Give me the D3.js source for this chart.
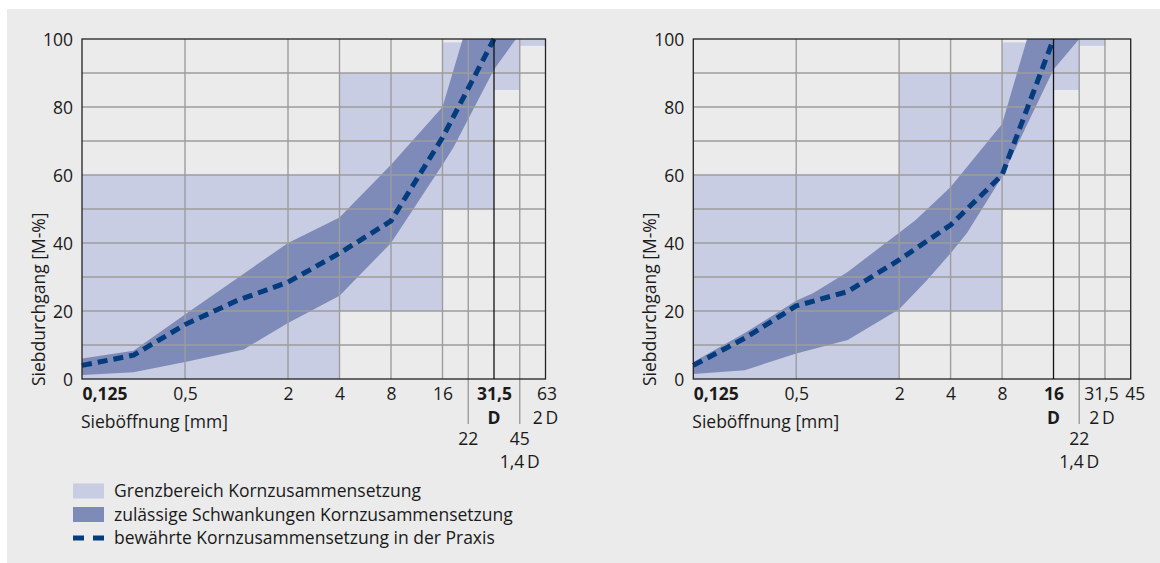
<!DOCTYPE html>
<html>
<head>
<meta charset="utf-8">
<script src="https://cdn.jsdelivr.net/npm/d3@7"></script>
<style>
  html, body { margin: 0; padding: 0; background: #ffffff; }
  svg { display: block; }
  text { font-family: "Open Sans", "Noto Sans", sans-serif; fill: #1a1a1a; }
</style>
</head>
<body>
<svg id="chart" width="1160" height="563"></svg>
<script>
// ---------------- DATA ----------------
const yTicks = [0, 20, 40, 60, 80, 100];
const yGrid = [10, 20, 30, 40, 50, 60, 70, 80, 90];

// left chart (D = 31,5)
const leftDomain = [0.125, 63];
const leftGridX = [0.5, 2, 4, 8, 16, 22, 45];
const leftDLine = 31.5;
const leftTicks = [0.125, 0.5, 2, 4, 8, 16, 31.5, 63];
const leftTickLabels = ["0,125", "0,5", "2", "4", "8", "16", "31,5", "63"];
const leftBoldTicks = [0.125, 31.5];
const leftRow2 = [[31.5, "D", true], [63, "2\u2009D", false]];
const leftRow3 = [[22, "22"], [45, "45"]];
const leftRow4 = [[45, "1,4\u2009D"]];
const leftExtLines = [22, 45];
const leftBoxes = [[0.125, 4, 0, 60], [4, 16, 20, 90], [16, 31.5, 50, 99], [31.5, 45, 85, 100], [45, 63, 98, 100]];
const leftUpper = [[0.125, 6], [0.25, 8.3], [0.5, 19], [1, 29.5], [2, 40], [4, 47.5], [8, 63], [16, 80], [21, 100]];
const leftLower = [[0.125, 1.2], [0.25, 2], [0.5, 5], [1.1, 8.7], [2, 16.5], [4, 24.5], [8, 40], [16, 63], [18.5, 68], [31.5, 91], [43, 100]];
const leftLine = [[0.125, 4], [0.25, 7], [0.5, 16], [1, 23], [2, 28.5], [4, 37], [8, 46.5], [16, 71], [31.5, 100]];

// right chart (D = 16)
const rightDomain = [0.125, 45];
const rightGridX = [0.5, 2, 4, 8, 22, 31.5];
const rightDLine = 16;
const rightTicks = [0.125, 0.5, 2, 4, 8, 16, 31.5, 45];
const rightTickLabels = ["0,125", "0,5", "2", "4", "8", "16", "31,5", "45"];
const rightBoldTicks = [0.125, 16];
const rightRow2 = [[16, "D", true], [31.5, "2\u2009D", false]];
const rightRow3 = [[22, "22"]];
const rightRow4 = [[22, "1,4\u2009D"]];
const rightExtLines = [22];
const rightBoxes = [[0.125, 2, 0, 60], [2, 8, 20, 90], [8, 16, 50, 99], [16, 22, 85, 100], [22, 31.5, 98, 100]];
const rightUpper = [[0.125, 5], [0.25, 13.5], [0.5, 23], [0.63, 25.3], [1, 31.5], [2, 43], [2.5, 46.8], [4, 56.5], [8, 75], [11.2, 100]];
const rightLower = [[0.125, 1.5], [0.25, 2.6], [0.5, 7.5], [1, 11.5], [2, 20.5], [2.9, 29], [4, 37], [5, 43], [8, 59.5], [16, 91], [22, 100]];
const rightLine = [[0.125, 4], [0.25, 12], [0.5, 21.5], [1, 25.7], [2, 35], [4, 45.3], [8, 60], [16, 100]];

const legendItems = [
  { type: "light", label: "Grenzbereich Kornzusammensetzung" },
  { type: "dark", label: "zulässige Schwankungen Kornzusammensetzung" },
  { type: "dash", label: "bewährte Kornzusammensetzung in der Praxis" }
];

// ---------------- STYLE ----------------
const COL_PANEL = "#ebebeb";
const COL_LIGHT = "#c8cde3";
const COL_DARK = "#7e8ab8";
const COL_LINE = "#003c7e";
const COL_GRID = "#9d9d9d";
const FS = 17.5;

// nominal sieve positions (sieve series in half-octave steps)
const nominal = d => ({ 22: 16 * Math.SQRT2, 31.5: 32, 45: 32 * Math.SQRT2, 63: 64 })[d] || d;

const svg = d3.select("#chart");
svg.append("rect").attr("x", 7).attr("y", 9).attr("width", 1153).attr("height", 554).attr("fill", COL_PANEL);

function drawChart(cfg) {
  const x0 = d3.scaleLog().base(2).domain(cfg.domain.map(nominal)).range([cfg.left, cfg.right]);
  const x = d => x0(nominal(d));
  const y = d3.scaleLinear().domain([0, 100]).range([379, 39]);
  const g = svg.append("g");

  // light boxes
  g.selectAll("rect.box").data(cfg.boxes).join("rect")
    .attr("x", d => x(d[0])).attr("width", d => x(d[1]) - x(d[0]))
    .attr("y", d => y(d[3])).attr("height", d => y(d[2]) - y(d[3]))
    .attr("fill", COL_LIGHT);

  // dark band
  const band = cfg.upper.concat(cfg.lower.slice().reverse());
  g.append("path")
    .attr("d", d3.line().x(d => x(d[0])).y(d => y(d[1]))(band) + "Z")
    .attr("fill", COL_DARK);

  // grid
  g.selectAll("line.gy").data(yGrid).join("line")
    .attr("x1", cfg.left).attr("x2", cfg.right)
    .attr("y1", d => y(d)).attr("y2", d => y(d))
    .attr("stroke", COL_GRID).attr("stroke-width", 1.4);
  g.selectAll("line.gx").data(cfg.gridX).join("line")
    .attr("x1", d => x(d)).attr("x2", d => x(d))
    .attr("y1", y(0)).attr("y2", y(100))
    .attr("stroke", COL_GRID).attr("stroke-width", 1.4);
  g.selectAll("line.ext").data(cfg.extLines).join("line")
    .attr("x1", d => x(d)).attr("x2", d => x(d))
    .attr("y1", y(0)).attr("y2", 424)
    .attr("stroke", COL_GRID).attr("stroke-width", 1.4);

  // dashed line
  g.append("path")
    .attr("d", d3.line().x(d => x(d[0])).y(d => y(d[1]))(cfg.line))
    .attr("fill", "none").attr("stroke", COL_LINE)
    .attr("stroke-width", 5).attr("stroke-dasharray", "10,6");

  // frame
  g.append("rect").attr("x", cfg.left).attr("y", y(100))
    .attr("width", cfg.right - cfg.left).attr("height", y(0) - y(100))
    .attr("fill", "none").attr("stroke", "#222").attr("stroke-width", 1.3);
  g.append("line").attr("x1", x(cfg.dLine)).attr("x2", x(cfg.dLine))
    .attr("y1", y(0)).attr("y2", y(100)).attr("stroke", "#111").attr("stroke-width", 1.3);

  // y axis
  const ya = g.append("g").attr("transform", `translate(${cfg.left - 6},0)`)
    .call(d3.axisLeft(y).tickValues(yTicks).tickSize(0).tickFormat(d3.format("d")));
  ya.select(".domain").remove();
  ya.selectAll("text").attr("font-size", FS).attr("font-family", null).attr("fill", "#1a1a1a").attr("dy", "0.35em");

  // x axis
  const xa = g.append("g").attr("transform", `translate(0,${y(0)})`)
    .call(d3.axisBottom(x0).tickValues(cfg.ticks.map(nominal)).tickSize(0)
      .tickFormat((d, i) => cfg.tickLabels[i]));
  xa.select(".domain").remove();
  xa.selectAll("text")
    .attr("font-size", FS).attr("font-family", null).attr("fill", "#1a1a1a")
    .attr("y", 15).attr("dy", "0.35em")
    .attr("dx", (d, i) => cfg.tickShift[i] || 0)
    .attr("font-weight", (d, i) => cfg.boldTicks.includes(cfg.ticks[i]) ? "bold" : null)
    .attr("text-anchor", (d, i) => i === 0 ? "start" : "middle");

  const rows = [[cfg.row2, 418], [cfg.row3, 439], [cfg.row4, 462]];
  rows.forEach(([items, yy]) => {
    g.selectAll(null).data(items).join("text")
      .attr("x", d => x(d[0]) + (d[0] === cfg.shift2 ? -3 : 0)).attr("y", yy).attr("dy", "0.35em")
      .attr("text-anchor", "middle").attr("font-size", FS)
      .attr("font-weight", d => d[2] ? "bold" : null)
      .text(d => d[1]);
  });

  // axis titles
  g.append("text").attr("x", cfg.left - 1).attr("y", 422).attr("dy", "0.35em")
    .attr("font-size", FS).text("Sieböffnung [mm]");
  g.append("text").attr("transform", `translate(${cfg.left - 43},386) rotate(-90)`)
    .attr("dy", "0.35em").attr("font-size", FS).text("Siebdurchgang [M-%]");
}

drawChart({
  domain: leftDomain, left: 82, right: 545.5, gridX: leftGridX, dLine: leftDLine,
  ticks: leftTicks, tickLabels: leftTickLabels, boldTicks: leftBoldTicks, tickShift: [0, 0, 0, 0, 0, 0, 0, 1],
  row2: leftRow2, row3: leftRow3, row4: leftRow4, extLines: leftExtLines, shift2: null,
  boxes: leftBoxes, upper: leftUpper, lower: leftLower, line: leftLine
});
drawChart({
  domain: rightDomain, left: 693.3, right: 1130.7, gridX: rightGridX, dLine: rightDLine,
  ticks: rightTicks, tickLabels: rightTickLabels, boldTicks: rightBoldTicks, tickShift: [0, 0, 0, 0, 0, 0, -4, 4],
  row2: rightRow2, row3: rightRow3, row4: rightRow4, extLines: rightExtLines, shift2: 31.5,
  boxes: rightBoxes, upper: rightUpper, lower: rightLower, line: rightLine
});

// legend
const lg = svg.append("g");
legendItems.forEach((it, i) => {
  const cy = 491 + i * 23.5;
  if (it.type === "dash") {
    lg.append("line").attr("x1", 73).attr("x2", 104).attr("y1", cy).attr("y2", cy)
      .attr("stroke", COL_LINE).attr("stroke-width", 5).attr("stroke-dasharray", "11,9");
  } else {
    lg.append("rect").attr("x", 73).attr("y", cy - 7.5).attr("width", 31).attr("height", 15)
      .attr("fill", it.type === "light" ? COL_LIGHT : COL_DARK);
  }
  lg.append("text").attr("x", 114).attr("y", cy).attr("dy", "0.35em")
    .attr("font-size", FS).text(it.label);
});
</script>
</body>
</html>
